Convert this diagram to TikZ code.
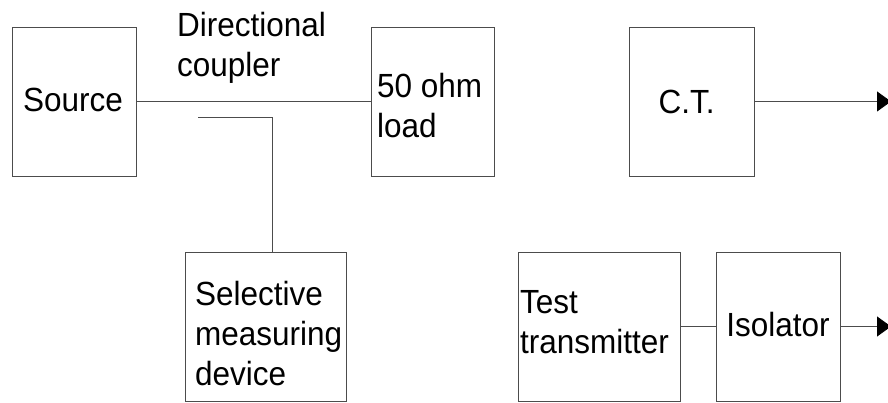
\documentclass[tikz,border=0pt]{standalone}
\usepackage{fontspec}
\setmainfont[FakeStretch=0.94]{Liberation Sans}
\usetikzlibrary{arrows.meta}
\begin{document}
\begin{tikzpicture}[x=1pt,y=-1pt,
  blk/.style={draw=black!70,line width=0.9pt,minimum height=149pt,inner sep=0pt},
  lbl/.style={inner sep=0pt,align=left,font=\fontsize{33.5}{40}\selectfont},
  wire/.style={draw=black!70,line width=0.9pt},
  arr/.style={wire,-{Triangle[length=14pt,width=20pt,fill=black,color=black]}}]
\useasboundingbox (0,0) rectangle (888,403);
% boxes
\node[blk,minimum width=124pt] (src) at (74,101.5) {};
\node[blk,minimum width=123pt] (load) at (432.5,101.5) {};
\node[blk,minimum width=125pt] (ct) at (691.5,101.5) {};
\node[blk,minimum width=161pt] (sel) at (265.5,326.5) {};
\node[blk,minimum width=162pt] (tt) at (599,326.5) {};
\node[blk,minimum width=124pt] (iso) at (778,326.5) {};
% labels
\node[lbl,anchor=base west] (tsrc) at (23,112) {Source};
\node[lbl,anchor=north west] (tdc) at (177,12.5) {Directional\\coupler};
\node[lbl,anchor=north west] (tload) at (377,73.5) {50 ohm\\load};
\node[lbl,anchor=base] (tct) at (686.5,114) {C.T.};
\node[lbl,anchor=north west] (tsel) at (195,281.5) {Selective\\measuring\\device};
\node[lbl,anchor=north west] (ttt) at (520,290) {Test\\transmitter};
\node[lbl,anchor=base] (tiso) at (778,336) {Isolator};
% connectors
\coordinate (cpl) at (198,117);
\coordinate (bend) at (272,117);
\coordinate (ctout) at (891,101.5);
\coordinate (isoout) at (891,326.5);
\draw[wire] (src.east) -- (load.west);
\draw[wire] (cpl) -- (bend) -- (bend |- sel.north);
\draw[wire] (tt.east) -- (iso.west);
\draw[arr] (ct.east) -- (ctout);
\draw[arr] (iso.east) -- (isoout);
\end{tikzpicture}
\end{document}
